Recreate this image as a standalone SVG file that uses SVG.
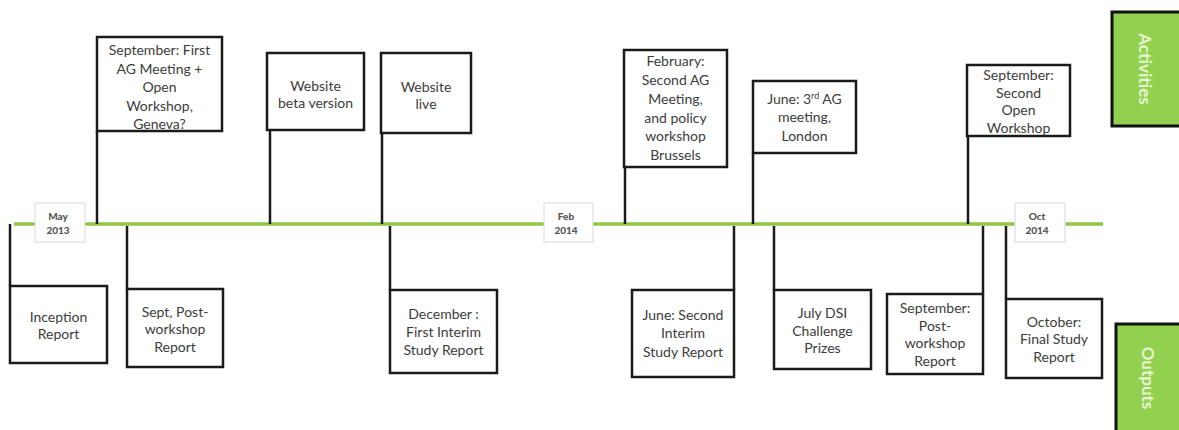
<svg xmlns="http://www.w3.org/2000/svg" width="1179" height="430" viewBox="0 0 1179 430">
<style>
.box{fill:#fff;stroke:#1a1a1a;stroke-width:2.5}
.stem{stroke:#1a1a1a;stroke-width:2.5;fill:none}
.t{font-family:Lato,"Liberation Sans",sans-serif;font-size:14px;fill:#3c3c3c;text-anchor:middle}
.date{fill:#fff;stroke:#d9d9d9;stroke-width:1}
.dt{font-family:Lato,"Liberation Sans",sans-serif;font-size:10px;font-weight:900;fill:#555;text-anchor:middle}
.side{fill:#92d050;stroke:#111;stroke-width:3}
.st{font-family:Lato,"Liberation Sans",sans-serif;font-size:17px;font-weight:bold;fill:#e6f5d0;text-anchor:middle}
</style>
<rect width="1179" height="430" fill="#fff"/>
<g id="connectors">
<line x1="14" y1="224" x2="1103" y2="224" stroke="#8fc743" stroke-width="3.5"/>
<line class="stem" x1="97" y1="131" x2="97" y2="224"/>
<line class="stem" x1="270" y1="130" x2="270" y2="224"/>
<line class="stem" x1="382" y1="133" x2="382" y2="224"/>
<line class="stem" x1="625" y1="167" x2="625" y2="224"/>
<line class="stem" x1="753" y1="153" x2="753" y2="224"/>
<line class="stem" x1="968" y1="136" x2="968" y2="224"/>
<line class="stem" x1="10" y1="224" x2="10" y2="286"/>
<line class="stem" x1="127" y1="226" x2="127" y2="289"/>
<line class="stem" x1="390" y1="226" x2="390" y2="290"/>
<line class="stem" x1="734" y1="226" x2="734" y2="290"/>
<line class="stem" x1="774" y1="226" x2="774" y2="290"/>
<line class="stem" x1="983" y1="226" x2="983" y2="294"/>
<line class="stem" x1="1006" y1="226" x2="1006" y2="299"/>
</g>
<g id="date-may2013"><rect class="date" x="35" y="203" width="50" height="39"/><text class="dt" x="58" y="220">May</text><text class="dt" x="58" y="234">2013</text></g>
<g id="date-feb2014"><rect class="date" x="544" y="203" width="49" height="39"/><text class="dt" x="566" y="220">Feb</text><text class="dt" x="566" y="234">2014</text></g>
<g id="date-oct2014"><rect class="date" x="1015" y="203" width="50" height="39"/><text class="dt" x="1037" y="220">Oct</text><text class="dt" x="1037" y="234">2014</text></g>
<g id="a1"><rect class="box" x="97" y="37" width="125" height="94"/><text class="t" x="159.5" y="55">September: First</text><text class="t" x="159.5" y="74">AG Meeting +</text><text class="t" x="159.5" y="92">Open</text><text class="t" x="159.5" y="111">Workshop,</text><text class="t" x="159.5" y="129">Geneva?</text></g>
<g id="a2"><rect class="box" x="267" y="53" width="97" height="77"/><text class="t" x="315.5" y="91">Website</text><text class="t" x="315.5" y="108">beta version</text></g>
<g id="a3"><rect class="box" x="381" y="53" width="90" height="80"/><text class="t" x="426" y="92">Website</text><text class="t" x="426" y="109">live</text></g>
<g id="a4"><rect class="box" x="624" y="50" width="103" height="117"/><text class="t" x="675.5" y="66">February:</text><text class="t" x="675.5" y="85">Second AG</text><text class="t" x="675.5" y="104">Meeting,</text><text class="t" x="675.5" y="123">and policy</text><text class="t" x="675.5" y="141">workshop</text><text class="t" x="675.5" y="160">Brussels</text></g>
<g id="a5"><rect class="box" x="753" y="81" width="103" height="72"/><text class="t" x="804.5" y="104">June: 3<tspan dy="-5" font-size="9">rd</tspan><tspan dy="5"> AG</tspan></text><text class="t" x="804.5" y="122">meeting,</text><text class="t" x="804.5" y="141">London</text></g>
<g id="a6"><rect class="box" x="967" y="65" width="103" height="71"/><text class="t" x="1018.5" y="80">September:</text><text class="t" x="1018.5" y="98">Second</text><text class="t" x="1018.5" y="115">Open</text><text class="t" x="1018.5" y="133">Workshop</text></g>
<g id="o1"><rect class="box" x="10" y="286" width="97" height="77"/><text class="t" x="58.5" y="322">Inception</text><text class="t" x="58.5" y="339">Report</text></g>
<g id="o2"><rect class="box" x="127" y="289" width="96" height="78"/><text class="t" x="175" y="317">Sept, Post-</text><text class="t" x="175" y="334">workshop</text><text class="t" x="175" y="352">Report</text></g>
<g id="o3"><rect class="box" x="390" y="290" width="107" height="83"/><text class="t" x="443.5" y="319">December :</text><text class="t" x="443.5" y="337">First Interim</text><text class="t" x="443.5" y="355">Study Report</text></g>
<g id="o4"><rect class="box" x="632" y="290" width="102" height="87"/><text class="t" x="683" y="320">June: Second</text><text class="t" x="683" y="338">Interim</text><text class="t" x="683" y="357">Study Report</text></g>
<g id="o5"><rect class="box" x="774" y="290" width="97" height="79"/><text class="t" x="822.5" y="318">July DSI</text><text class="t" x="822.5" y="336">Challenge</text><text class="t" x="822.5" y="353">Prizes</text></g>
<g id="o6"><rect class="box" x="887" y="294" width="96" height="80"/><text class="t" x="935" y="313">September:</text><text class="t" x="935" y="331">Post-</text><text class="t" x="935" y="348">workshop</text><text class="t" x="935" y="366">Report</text></g>
<g id="o7"><rect class="box" x="1006" y="299" width="96" height="79"/><text class="t" x="1054" y="327">October:</text><text class="t" x="1054" y="344">Final Study</text><text class="t" x="1054" y="362">Report</text></g>
<g id="activities"><rect class="side" x="1112" y="12" width="72" height="114"/><text class="st" transform="translate(1145 69) rotate(90)" y="6">Activities</text></g>
<g id="outputs"><rect class="side" x="1116" y="324" width="70" height="112"/><text class="st" transform="translate(1148 378) rotate(90)" y="6">Outputs</text></g>
</svg>
